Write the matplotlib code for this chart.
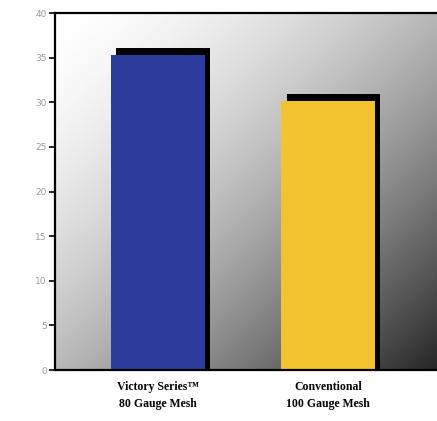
import matplotlib.pyplot as plt
import numpy as np

categories = ['Victory Series\u2122\n80 Gauge Mesh', 'Conventional\n100 Gauge Mesh']
values = [35.3, 30.2]
colors = ['#2c3b9c', '#f3c22f']

fig = plt.figure(figsize=(4.37, 4.21), dpi=100)
ax = fig.add_axes([0.126, 0.121, 0.874, 0.848])

# diagonal gradient background: white top-left -> dark bottom-right
gx, gy = np.meshgrid(np.linspace(0, 1, 300), np.linspace(1, 0, 300))
t = (gx + (1 - gy)) / 2
shade = 1 - 0.85 * t ** 1.6
ax.imshow(shade, cmap='gray', vmin=0, vmax=1, extent=[0, 1, 0, 1],
          transform=ax.transAxes, aspect='auto', zorder=0)

xs = np.arange(len(categories))
width = 0.55
ax.bar(xs + 0.03, np.array(values) + 0.75, width, color='black', zorder=2)
ax.bar(xs, values, width, color=colors, zorder=3)

ax.set_xlim(-0.606, 1.64)
ax.set_ylim(0, 40)
ax.set_yticks(range(0, 41, 5))
ax.tick_params(axis='y', direction='out', length=4, width=1.2, colors='black',
               labelcolor='#999999', labelsize=6.5, pad=2)
ax.set_xticks(xs)
ax.set_xticklabels(categories, fontfamily='Liberation Serif', fontweight='bold',
                   fontsize=8.5, linespacing=1.5)
ax.tick_params(axis='x', length=0, pad=8)
for s in ['left', 'bottom', 'top']:
    ax.spines[s].set_linewidth(1.6)
    ax.spines[s].set_zorder(5)
ax.spines['right'].set_visible(False)

fig.savefig('out.png', dpi=100)
